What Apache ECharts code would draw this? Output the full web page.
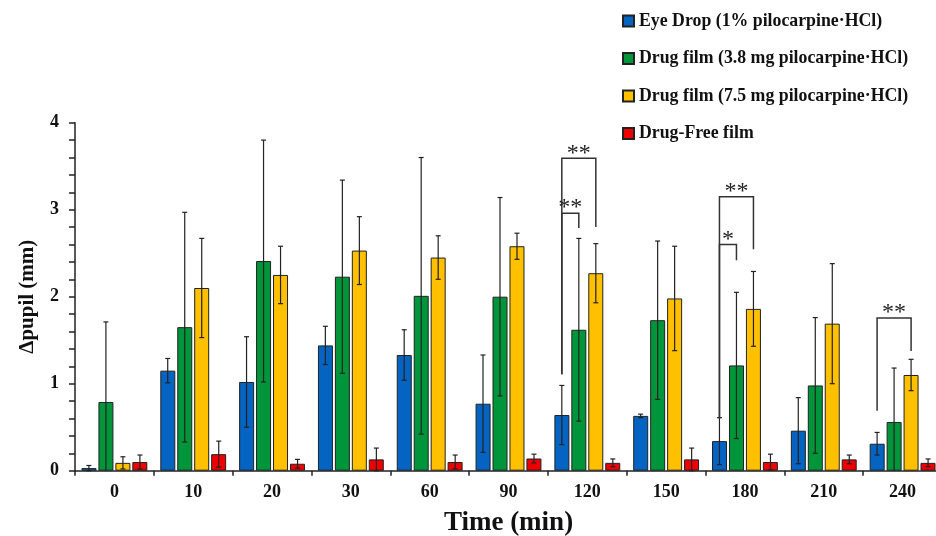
<!DOCTYPE html>
<html><head><meta charset="utf-8">
<script src="https://cdn.jsdelivr.net/npm/echarts@6/dist/echarts.min.js"></script>
<style>html,body{margin:0;padding:0;background:#fff}#c{width:936px;height:536px}</style>
</head><body><div id="c"></div>
<script>
var categories = ['0','10','20','30','60','90','120','150','180','210','240'];
var seriesNames = ['Eye Drop (1% pilocarpine\u00B7HCl)','Drug film (3.8 mg pilocarpine\u00B7HCl)','Drug film (7.5 mg pilocarpine\u00B7HCl)','Drug-Free film'];
var eyeDrop   = [0.03, 1.15, 1.02, 1.44, 1.33, 0.77, 0.64, 0.63, 0.34, 0.46, 0.31];
var film38    = [0.79, 1.65, 2.41, 2.23, 2.01, 2.00, 1.62, 1.73, 1.21, 0.98, 0.56];
var film75    = [0.09, 2.10, 2.25, 2.53, 2.45, 2.58, 2.27, 1.98, 1.86, 1.69, 1.10];
var drugFree  = [0.10, 0.19, 0.08, 0.13, 0.10, 0.14, 0.09, 0.13, 0.10, 0.13, 0.09];
var eyeDropErr  = [0.03, 0.14, 0.52, 0.22, 0.29, 0.56, 0.34, 0.02, 0.27, 0.38, 0.13];
var film38Err   = [0.92, 1.32, 1.39, 1.11, 1.59, 1.14, 1.05, 0.91, 0.84, 0.78, 0.62];
var film75Err   = [0.07, 0.57, 0.33, 0.39, 0.25, 0.15, 0.34, 0.60, 0.43, 0.69, 0.18];
var drugFreeErr = [0.08, 0.15, 0.05, 0.13, 0.08, 0.05, 0.045, 0.13, 0.09, 0.05, 0.045];
// brackets: [categoryIndex, leftSeries, rightSeries, topValue, leftLegBottom, rightLegBottom]
var brackets = [
  [6, 0, 2, 3.59, 1.11, 2.80],
  [6, 0, 1, 2.96, 1.11, 2.79],
  [8, 0, 2, 3.15, 0.60, 2.545],
  [8, 0, 1, 2.60, 0.60, 2.42],
  [10, 0, 2, 1.755, 0.69, 1.376]
];
var bracketLabels = ['**','**','**','*','**'];
var yTicks = [0, 1, 2, 3, 4];

var colors = ['#0563c1', '#00953a', '#ffc000', '#ee0000'];
var values = [eyeDrop, film38, film75, drugFree];
var errs = [eyeDropErr, film38Err, film75Err, drugFreeErr];
var BAR_W = 15, STEP = 17;
var SERIF = '"Liberation Serif", "Times New Roman", serif';

var series = [];
values.forEach(function (v, i) {
  series.push({
    name: seriesNames[i], type: 'bar', data: v, barWidth: BAR_W, barGap: '13%',
    itemStyle: { color: colors[i], borderColor: '#222', borderWidth: 1 }, z: 2
  });
});
values.forEach(function (v, i) {
  series.push({
    type: 'custom', z: 5, silent: true,
    data: v.map(function (val, k) { return [k, val, errs[i][k]]; }),
    encode: { x: 0, y: 1 },
    renderItem: function (params, api) {
      var cat = api.value(0), val = api.value(1), e = api.value(2);
      var c = api.coord([cat, val]);
      var x = c[0] + (i - 1.5) * STEP;
      var hi = api.coord([cat, val + e])[1];
      var loV = val - e, clipped = loV < 0;
      var lo = api.coord([cat, Math.max(0, loV)])[1];
      var st = { stroke: '#222', lineWidth: 1.2 };
      var ch = [
        { type: 'line', shape: { x1: x, y1: hi, x2: x, y2: lo }, style: st },
        { type: 'line', shape: { x1: x - 2.5, y1: hi, x2: x + 2.5, y2: hi }, style: st }
      ];
      if (!clipped) ch.push({ type: 'line', shape: { x1: x - 2.5, y1: lo, x2: x + 2.5, y2: lo }, style: st });
      return { type: 'group', children: ch };
    }
  });
});
series.push({
  type: 'custom', z: 6, silent: true,
  data: brackets,
  encode: { x: 0, y: 3 },
  renderItem: function (params, api) {
    var cat = api.value(0), ls = api.value(1), rs = api.value(2);
    var top = api.coord([cat, api.value(3)]);
    var xl = top[0] + (ls - 1.5) * STEP, xr = top[0] + (rs - 1.5) * STEP;
    var yl = api.coord([cat, api.value(4)])[1], yr = api.coord([cat, api.value(5)])[1];
    var st = { stroke: '#333', lineWidth: 1.5, fill: null };
    return { type: 'group', children: [
      { type: 'polyline', shape: { points: [[xl, yl], [xl, top[1]], [xr, top[1]], [xr, yr]] }, style: st },
      { type: 'text', style: { text: bracketLabels[params.dataIndex], x: (xl + xr) / 2, y: top[1] + 7,
          align: 'center', verticalAlign: 'bottom', font: '24px ' + SERIF, fill: '#222' } }
    ] };
  }
});

var chart = echarts.init(document.getElementById('c'), null, { renderer: 'canvas' });
chart.setOption({
  animation: false,
  backgroundColor: '#fff',
  legend: {
    data: seriesNames, orient: 'vertical', left: 622, top: 12, padding: 0,
    itemWidth: 11, itemHeight: 11, itemGap: 19.5, icon: 'rect',
    textStyle: { fontFamily: SERIF, fontWeight: 'bold', fontSize: 17.8, color: '#111', lineHeight: 18 }
  },
  grid: { left: 75, right: -6, top: 122.7, bottom: 65.3, containLabel: false, outerBoundsMode: 'none' },
  xAxis: {
    type: 'category', data: categories,
    name: 'Time (min)', nameLocation: 'middle', nameGap: 39,
    nameTextStyle: { fontFamily: SERIF, fontWeight: 'bold', fontSize: 27, color: '#111' },
    axisLine: { lineStyle: { color: '#222', width: 1.5 } },
    axisTick: { show: true, length: 5, lineStyle: { color: '#222', width: 1.5 } },
    axisLabel: { fontFamily: SERIF, fontWeight: 'bold', fontSize: 18, color: '#111', margin: 13 }
  },
  yAxis: {
    type: 'value', min: yTicks[0], max: yTicks[yTicks.length - 1], interval: 1,
    name: '\u0394pupil (mm)', nameLocation: 'middle', nameGap: 37,
    nameTextStyle: { fontFamily: SERIF, fontWeight: 'bold', fontSize: 21, color: '#111' },
    axisLine: { show: true, lineStyle: { color: '#222', width: 1.5 } },
    axisTick: { show: true, length: 6, lineStyle: { color: '#222', width: 1.5 } },
    minorTick: { show: true, splitNumber: 5, length: 6, lineStyle: { color: '#222', width: 1.5 } },
    splitLine: { show: false },
    axisLabel: { fontFamily: SERIF, fontWeight: 'bold', fontSize: 18, color: '#111', margin: 16 }
  },
  series: series
});
</script></body></html>
